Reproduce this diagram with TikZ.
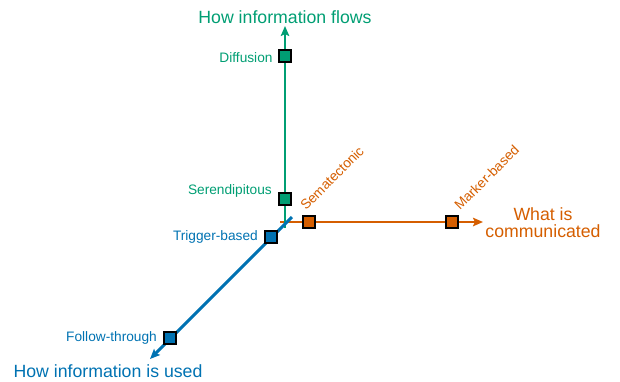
\documentclass[tikz,border=0pt]{standalone}
\usepackage{fontspec}
\setmainfont{Liberation Sans}
\usetikzlibrary{arrows.meta}
\definecolor{cgreen}{HTML}{009E73}
\definecolor{corange}{HTML}{D55E00}
\definecolor{cblue}{HTML}{0072B2}
\begin{document}
\begin{tikzpicture}[x=1pt,y=-1pt,
  axis/.style={line width=2.9pt,-{Stealth[length=10pt,width=8.5pt,inset=2pt]}},
  mk/.style={draw=black,line width=1.6pt,minimum size=12pt,inner sep=0pt},
  small/.style={font=\fontsize{13.7}{15}\selectfont,inner sep=0pt},
  big/.style={font=\fontsize{17.7}{17.3}\selectfont,inner sep=0pt}]
\useasboundingbox (0,0) rectangle (620,381);
% axis ends
\coordinate (os) at (280,222);
\coordinate (oe) at (483,222);
\coordinate (gs) at (285,228);
\coordinate (ge) at (285,26);
\coordinate (bs) at (292,217);
\coordinate (be) at (150,359);
\draw[axis,corange] (os) -- (oe);
\draw[axis,cgreen] (gs) -- (ge);
\draw[axis,cblue] (bs) -- (be);
% markers
\node[mk,fill=cgreen] (dif) at (285,56) {};
\node[mk,fill=cgreen] (ser) at (285,199) {};
\node[mk,fill=corange] (sem) at (309,222) {};
\node[mk,fill=corange] (mar) at (452,222) {};
\node[mk,fill=cblue] (tri) at (271,237) {};
\node[mk,fill=cblue] (fol) at (170,338) {};
% small labels
\node[small,text=cgreen,anchor=base east] (difl) at (272.7,62.3) {Diffusion};
\node[small,text=cgreen,anchor=base east] (serl) at (272,194) {Serendipitous};
\node[small,text=cblue,anchor=base east] (tril) at (258,240.5) {Trigger-based};
\node[small,text=cblue,anchor=base east] (foll) at (157,341.7) {Follow-through};
\node[small,text=corange,anchor=base west,rotate=45] (seml) at (306,211) {Sematectonic};
\node[small,text=corange,anchor=base west,rotate=45] (marl) at (460,211) {Marker-based};
% axis titles
\node[big,text=cgreen,anchor=base] (gt) at (285,23) {How information flows};
\node[big,text=cblue,anchor=base] (bt) at (108,377) {How information is used};
\node[big,text=corange,align=center] (ot) at (543,223) {What is\\communicated};
\end{tikzpicture}
\end{document}
